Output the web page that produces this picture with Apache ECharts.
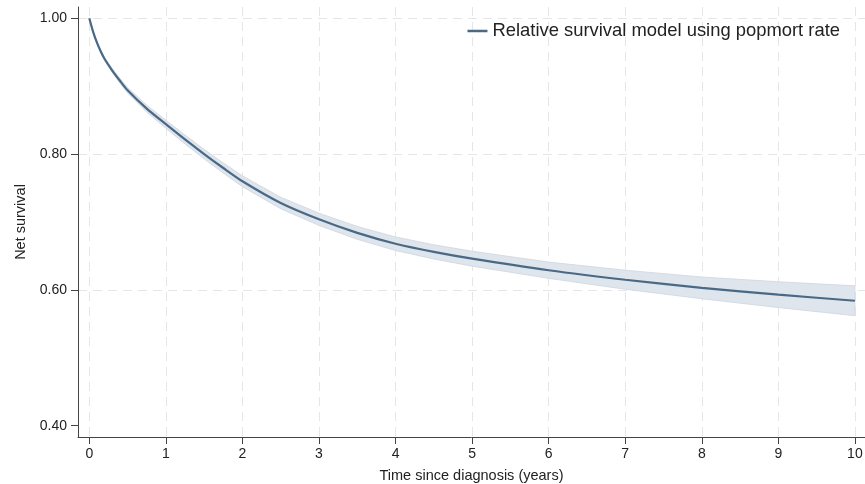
<!DOCTYPE html>
<html lang="en">
<head>
    <meta charset="UTF-8">
    <title>Net survival</title>
    <script src="https://cdn.jsdelivr.net/npm/echarts@6/dist/echarts.min.js"></script>
    <style>
        html, body { margin: 0; padding: 0; background: #fff; }
        #chart { width: 865px; height: 484px; }
    </style>
</head>
<body>
<div id="chart"></div>
<script type="text/javascript">
    // time since diagnosis (years)
    var years = [0, 0.05, 0.1, 0.15, 0.2, 0.3, 0.4, 0.5, 0.75, 1, 1.25, 1.5, 1.75, 2, 2.5, 3, 3.5, 4, 4.5, 5, 6, 7, 8, 9, 10];
    // net survival estimate
    var survival = [1.000, 0.980, 0.964, 0.951, 0.940, 0.923, 0.908, 0.894, 0.867, 0.844, 0.8215, 0.800, 0.7795, 0.760, 0.728, 0.704, 0.684, 0.668, 0.656, 0.646, 0.629, 0.615, 0.603, 0.593, 0.584];
    // confidence band
    var lower = [1.000, 0.9795, 0.963, 0.9495, 0.938, 0.920, 0.9045, 0.890, 0.862, 0.838, 0.815, 0.793, 0.772, 0.752, 0.7195, 0.695, 0.6745, 0.658, 0.6455, 0.635, 0.617, 0.601, 0.587, 0.574, 0.562];
    var upper = [1.000, 0.9805, 0.965, 0.9525, 0.942, 0.926, 0.9115, 0.898, 0.872, 0.850, 0.828, 0.807, 0.787, 0.768, 0.7365, 0.713, 0.6935, 0.678, 0.6665, 0.657, 0.641, 0.629, 0.619, 0.612, 0.606];
    var xTicks = [0, 1, 2, 3, 4, 5, 6, 7, 8, 9, 10];
    var yTicks = [0.4, 0.6, 0.8, 1.0];

    var font = "'Liberation Sans', Arial, Helvetica, sans-serif";

    function pairs(xs, ys) {
        var out = [];
        for (var i = 0; i < xs.length; i++) out.push([xs[i], ys[i]]);
        return out;
    }
    var bandData = [];
    for (var i = 0; i < years.length; i++) {
        bandData.push([years[i], lower[i], upper[i]]);
    }

    // CI band drawn as one polygon (upper edge forward, lower edge back)
    function renderBand(params, api) {
        if (params.dataIndex !== 0) return;
        var pts = [], i;
        for (i = 0; i < bandData.length; i++) pts.push(api.coord([bandData[i][0], bandData[i][2]]));
        for (i = bandData.length - 1; i >= 0; i--) pts.push(api.coord([bandData[i][0], bandData[i][1]]));
        return {
            type: 'polygon',
            shape: { points: pts },
            style: { fill: '#dfe5ec', stroke: '#cdd6df', lineWidth: 0.8 }
        };
    }

    var myChart = echarts.init(document.getElementById('chart'));
    var option = {
        animation: false,
        backgroundColor: '#fff',
        textStyle: { fontFamily: font },
        grid: { left: 78, right: 0, top: 7, bottom: 47, containLabel: false, outerBoundsMode: 'none' },
        legend: {
            data: ['Relative survival model using popmort rate'],
            right: 20,
            top: 17,
            icon: 'rect',
            itemWidth: 20,
            itemHeight: 2.5,
            itemGap: 6,
            textStyle: { fontSize: 18.4, color: '#222', fontFamily: font }
        },
        xAxis: {
            type: 'value',
            min: -0.1476,
            max: 10.132,
            name: 'Time since diagnosis (years)',
            nameLocation: 'middle',
            nameGap: 31,
            nameTextStyle: { fontSize: 14.5, color: '#222' },
            axisLine: { show: true, onZero: false, lineStyle: { color: '#444', width: 1 } },
            axisTick: { show: true, length: 7, customValues: xTicks, lineStyle: { color: '#444' } },
            axisLabel: { customValues: xTicks, fontSize: 14, color: '#222', margin: 10 },
            splitLine: { show: true, lineStyle: { color: '#e6e6e6', type: [9, 6], width: 1 } }
        },
        yAxis: {
            type: 'value',
            min: 0.3834,
            max: 1.0166,
            name: 'Net survival',
            nameLocation: 'middle',
            nameGap: 44,
            nameTextStyle: { fontSize: 14.5, color: '#222' },
            axisLine: { show: true, onZero: false, lineStyle: { color: '#444', width: 1 } },
            axisTick: { show: true, length: 7, customValues: yTicks, lineStyle: { color: '#444' } },
            axisLabel: {
                customValues: yTicks, fontSize: 14, color: '#222', margin: 11,
                formatter: function (v) { return v.toFixed(2); }
            },
            splitLine: {
                show: true,
                lineStyle: { color: ['rgba(0,0,0,0)', '#e6e6e6', '#e6e6e6', '#e6e6e6'], type: [9, 6], width: 1 }
            }
        },
        series: [
            {
                name: 'ci',
                type: 'custom',
                data: bandData,
                encode: { x: 0, y: [1, 2] },
                renderItem: renderBand,
                silent: true,
                z: 1
            },
            {
                name: 'Relative survival model using popmort rate',
                type: 'line',
                data: pairs(years, survival),
                symbol: 'none',
                smooth: 0.25,
                lineStyle: { color: '#4a6985', width: 2.2 },
                itemStyle: { color: '#4a6985' },
                z: 2
            }
        ]
    };
    myChart.setOption(option);
</script>
</body>
</html>
